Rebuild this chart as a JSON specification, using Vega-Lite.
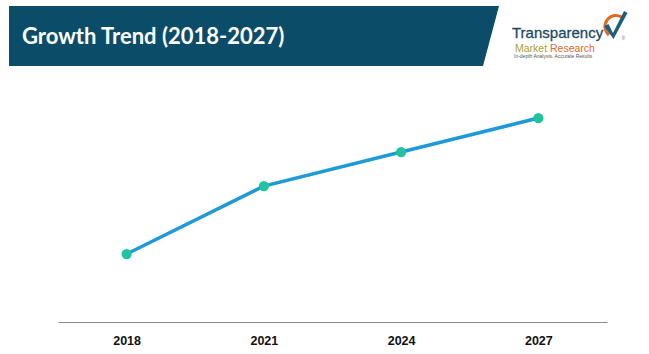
{
  "$schema": "https://vega.github.io/schema/vega-lite/v6.json",
  "width": 549,
  "height": 242,
  "autosize": {"type": "none"},
  "padding": {"left": 58, "top": 80, "right": 42, "bottom": 32},
  "background": "#ffffff",
  "config": {"view": {"stroke": null}},
  "data": {"values": [
    {"year": "2018", "value": 1.0},
    {"year": "2021", "value": 2.0},
    {"year": "2024", "value": 2.5},
    {"year": "2027", "value": 3.0}
  ]},
  "layer": [
    {
      "data": {"values": [{"item": "banner"}]},
      "mark": {"type": "point", "shape": "M-323.5,-195 L166.5,-195 L150.5,-135 L-323.5,-135 Z", "size": 4, "filled": true, "fill": "#0b4d68", "opacity": 1, "strokeWidth": 0},
      "encoding": {}
    },
    {
      "data": {"values": [{"label": "Growth Trend (2018-2027)"}]},
      "mark": {"type": "text", "align": "left", "baseline": "alphabetic", "dx": -310.5, "dy": -157.5, "font": "Lato", "fontWeight": "bold", "fontSize": 22, "fill": "#ffffff"},
      "encoding": {"text": {"field": "label"}}
    },
    {
      "data": {"values": [{"label": "Transparency"}]},
      "mark": {"type": "text", "align": "left", "baseline": "alphabetic", "dx": 179.5, "dy": -163, "font": "Liberation Sans", "fontSize": 15, "fill": "#1a4a64", "stroke": "#1a4a64", "strokeWidth": 0.3},
      "encoding": {"text": {"field": "label"}}
    },
    {
      "data": {"values": [{"label": "Market"}]},
      "mark": {"type": "text", "align": "left", "baseline": "alphabetic", "dx": 182.5, "dy": -149.5, "font": "Liberation Sans", "fontSize": 10.5, "fill": "#a8a232"},
      "encoding": {"text": {"field": "label"}}
    },
    {
      "data": {"values": [{"label": "Research"}]},
      "mark": {"type": "text", "align": "left", "baseline": "alphabetic", "dx": 217.5, "dy": -149.5, "font": "Liberation Sans", "fontSize": 10.5, "fill": "#e2682b"},
      "encoding": {"text": {"field": "label"}}
    },
    {
      "data": {"values": [{"label": "In-depth Analysis. Accurate Results"}]},
      "mark": {"type": "text", "align": "left", "baseline": "alphabetic", "dx": 181.5, "dy": -143.5, "font": "Liberation Sans", "fontSize": 5, "fill": "#555555"},
      "encoding": {"text": {"field": "label"}}
    },
    {
      "data": {"values": [{"item": "swoosh"}]},
      "mark": {"type": "point", "shape": "M276.5,-166 A9,9 0 0 1 290.5,-183", "size": 4, "filled": false, "stroke": "#e2682b", "strokeWidth": 3, "opacity": 1},
      "encoding": {}
    },
    {
      "data": {"values": [{"item": "check"}]},
      "mark": {"type": "point", "shape": "M271.5,-175 L276,-177 L280.5,-168 L291.5,-190 L295,-188 L281,-162 Z", "size": 4, "filled": true, "fill": "#1d5f7a", "opacity": 1, "strokeWidth": 0},
      "encoding": {}
    },
    {
      "data": {"values": [{"label": "®"}]},
      "mark": {"type": "text", "align": "left", "baseline": "alphabetic", "dx": 289, "dy": -161, "font": "Liberation Sans", "fontSize": 5, "fill": "#777777"},
      "encoding": {"text": {"field": "label"}}
    },
    {
      "mark": {"type": "line", "color": "#1e9ad6", "strokeWidth": 3.5},
      "encoding": {
        "x": {"field": "year", "type": "ordinal", "scale": {"type": "point", "padding": 0.5},
              "axis": {"title": null, "domainColor": "#8a8a8a", "domainWidth": 1.2, "ticks": false, "grid": false,
                       "labelFont": "Liberation Sans", "labelFontWeight": "bold", "labelFontSize": 12.5, "labelColor": "#111111",
                       "labelPadding": 12, "labelAngle": 0}},
        "y": {"field": "value", "type": "quantitative", "scale": {"domain": [0, 3.56], "nice": false, "zero": true}, "axis": null}
      }
    },
    {
      "mark": {"type": "circle", "color": "#20c39f", "size": 105, "opacity": 1},
      "encoding": {
        "x": {"field": "year", "type": "ordinal", "scale": {"type": "point", "padding": 0.5}},
        "y": {"field": "value", "type": "quantitative", "scale": {"domain": [0, 3.56], "nice": false, "zero": true}}
      }
    }
  ]
}
